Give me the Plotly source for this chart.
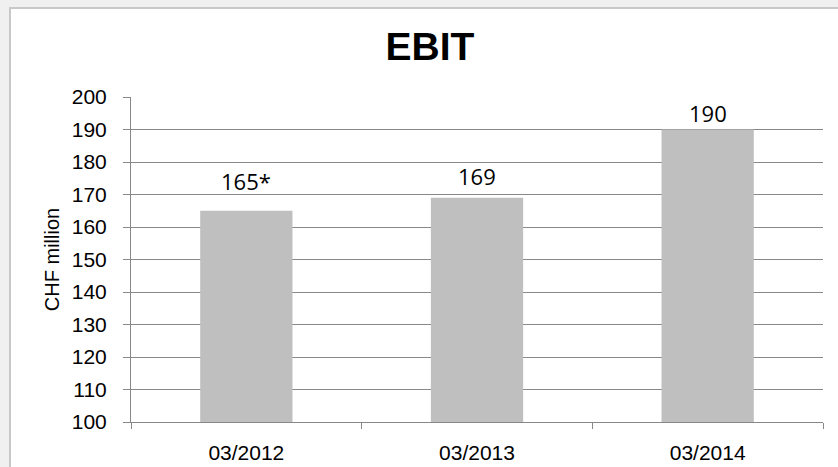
import plotly.graph_objects as go

categories = ["03/2012", "03/2013", "03/2014"]
ebit = [165, 169, 190]
labels = ["165*", "169", "190"]
label_offsets = [30, 22, 17]  # px above bar top (style)
y_ticks = list(range(100, 201, 10))

W, H = 838, 467
L, R, T, B = 131, 15, 97, 45
pw, ph = W - L - R, H - T - B

fig = go.Figure()
fig.add_trace(go.Bar(x=categories, y=ebit, marker=dict(color="#BFBFBF", line=dict(width=0)),
                     hoverinfo="skip"))

for c, v, t, o in zip(categories, ebit, labels, label_offsets):
    fig.add_annotation(x=c, y=v, text=t, showarrow=False, yanchor="middle", yshift=o,
                       font=dict(family="Open Sans", size=22, color="#000000"))

# chart area box
fig.add_shape(type="rect", xref="paper", yref="paper",
              x0=(10 - L) / pw, x1=(W + 5 - L) / pw,
              y0=(H - T - B - (H + 5 - T)) / ph, y1=(H - B - 8) / ph,
              line=dict(color="#C8C8C8", width=2), fillcolor="white", layer="below")

fig.update_layout(
    width=W, height=H,
    margin=dict(l=L, r=R, t=T, b=B),
    paper_bgcolor="#F0F0F0", plot_bgcolor="white",
    bargap=0.6, showlegend=False,
    title=dict(text="<b>EBIT</b>", x=430 / W, xanchor="center", xref="container",
               y=1 - 46 / H, yanchor="middle", yref="container",
               font=dict(family="Liberation Sans", size=39, color="#000000")),
    font=dict(family="Liberation Sans", color="#000000"),
)
fig.update_xaxes(type="category", showgrid=False, showline=True, linecolor="#888888", linewidth=1,
                 ticks="outside", tickson="boundaries", ticklen=6, tickcolor="#888888",
                 tickfont=dict(family="Liberation Sans", size=21, color="#000000"),
                 ticklabelstandoff=12, mirror=False, automargin=False)
fig.update_yaxes(range=[100, 200], tickvals=y_ticks, showgrid=True, gridcolor="#888888", gridwidth=1,
                 showline=True, linecolor="#888888", linewidth=1, zeroline=False,
                 ticks="outside", ticklen=7, tickcolor="#888888",
                 tickfont=dict(family="Liberation Sans", size=21, color="#000000"),
                 ticklabelstandoff=12, automargin=False,
                 title=dict(text="CHF million", standoff=6,
                            font=dict(family="Liberation Sans", size=20, color="#000000")))

fig.write_html("out.html")
